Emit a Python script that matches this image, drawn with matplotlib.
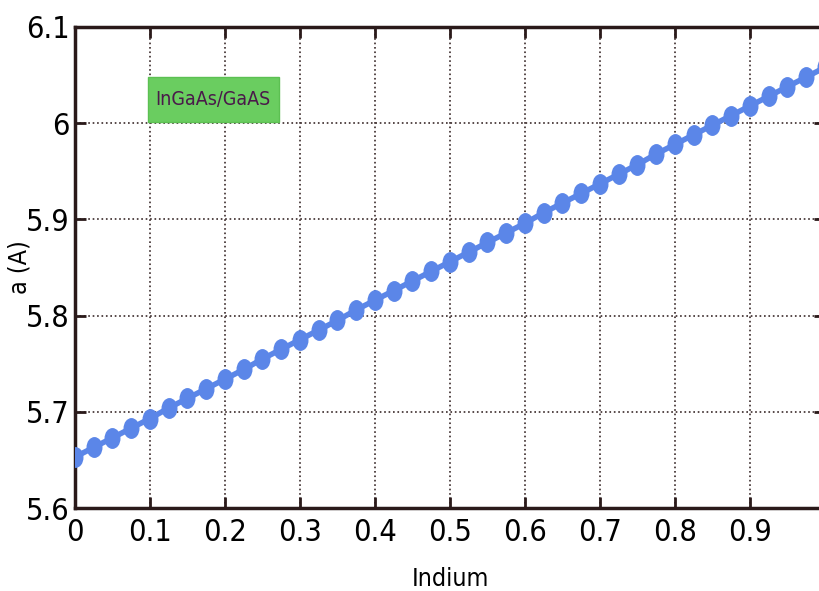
import matplotlib.pyplot as plt
from matplotlib.patches import Rectangle
from matplotlib.path import Path
from matplotlib.transforms import Affine2D

# indium fraction and lattice constant
indium = [0.0, 0.025, 0.05, 0.075, 0.1, 0.125, 0.15, 0.175, 0.2, 0.225,
          0.25, 0.275, 0.3, 0.325, 0.35, 0.375, 0.4, 0.425, 0.45, 0.475,
          0.5, 0.525, 0.55, 0.575, 0.6, 0.625, 0.65, 0.675, 0.7, 0.725,
          0.75, 0.775, 0.8, 0.825, 0.85, 0.875, 0.9, 0.925, 0.95, 0.975, 1.0]
a_const = [5.653, 5.663, 5.673, 5.683, 5.693, 5.704, 5.714, 5.724, 5.734, 5.744,
           5.755, 5.765, 5.775, 5.785, 5.795, 5.806, 5.816, 5.826, 5.836, 5.846,
           5.856, 5.866, 5.876, 5.886, 5.896, 5.907, 5.917, 5.927, 5.937, 5.947,
           5.957, 5.968, 5.978, 5.988, 5.998, 6.008, 6.018, 6.028, 6.038, 6.048, 6.058]
xticks = [0, 0.1, 0.2, 0.3, 0.4, 0.5, 0.6, 0.7, 0.8, 0.9, 1]
xtick_labels = ['0', '0.1', '0.2', '0.3', '0.4', '0.5', '0.6', '0.7', '0.8', '0.9', '1']
yticks = [5.6, 5.7, 5.8, 5.9, 6.0, 6.1]
ytick_labels = ['5.6', '5.7', '5.8', '5.9', '6', '6.1']

plt.rcParams['font.family'] = ['DejaVu Sans']
plt.rcParams['font.stretch'] = 'condensed'

fig = plt.figure(figsize=(8.2, 5.91), dpi=100)
ax = fig.add_axes([75/820, 1-508/591, 750/820, 481/591])

# slightly tall ellipse markers, like the scanned figure
oval = Path.unit_circle().transformed(Affine2D().scale(0.75, 1.0))
ax.plot(indium, a_const, '-', color='#5b86e8', lw=4, marker=oval, ms=14,
        markeredgecolor='#5b86e8', zorder=3)

ax.set_xlim(0, 1)
ax.set_ylim(5.6, 6.1)
ax.set_xticks(xticks)
ax.set_xticklabels(xtick_labels)
ax.set_yticks(yticks)
ax.set_yticklabels(ytick_labels)
ax.tick_params(direction='in', length=8, width=2, color='#2a1a1a',
               top=True, right=True, labelsize=22, pad=7)
ax.tick_params(axis='y', pad=4)
for s in ax.spines.values():
    s.set_color('#2a1a1a')
    s.set_linewidth(2.5)
ax.grid(True, linestyle=':', color='#3a2a2a', lw=1.2)

ax.set_xlabel('Indium', fontsize=18)
ax.set_ylabel('a (A)', fontsize=18)
ax.xaxis.set_label_coords(0.5, -0.122)
ax.yaxis.set_label_coords(-0.058, 0.5)

# green label box
ax.add_patch(Rectangle((0.097, 6.001), 0.175, 0.047, fc='#6acd60',
                       ec='#5cc052', zorder=4))
ax.text(0.1845, 6.0245, 'InGaAs/GaAS', fontsize=14, color='#4a1a4a',
        ha='center', va='center', zorder=5)

fig.savefig('out.png', dpi=100)
